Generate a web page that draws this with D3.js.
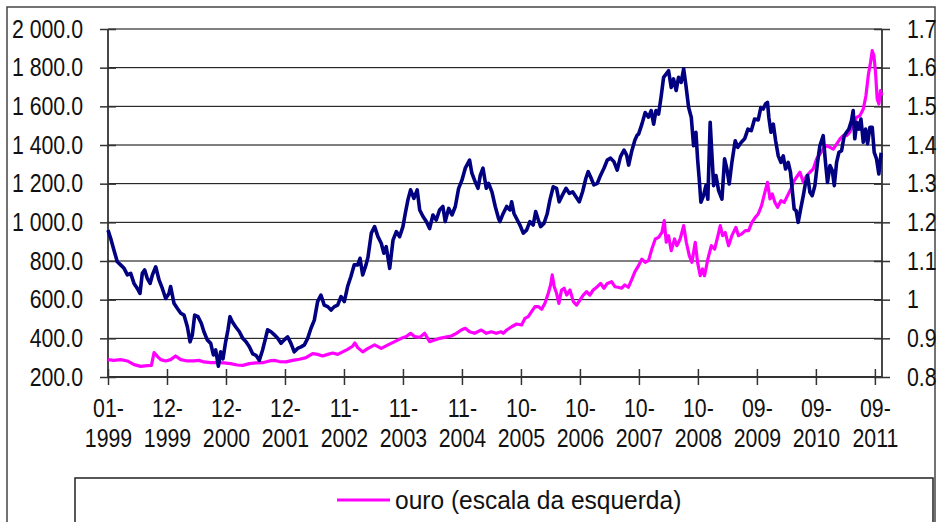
<!DOCTYPE html>
<html>
  <head>
    <script src="https://d3js.org/d3.v7.min.js"></script>
    <style>
      body { margin: 0; background: #fff; }
      text { font-family: "Liberation Sans", Arial, sans-serif; fill: #111; }
    </style>
  </head>
  <body>
    <script>

      // days counted from the first observation
      const startDate = new Date(1999, 0, 4);
      const endDate = new Date(2011, 9, 19);

      // EUR/USD, right scale  [day, value]
      const eurusd = [
        [0,1.180],[16,1.159],[36,1.128],[56,1.098],[76,1.090],[97,1.081],[117,1.064],[137,1.068],[157,1.042],[177,1.029],
        [193,1.016],[207,1.068],[221,1.077],[237,1.055],[254,1.042],[268,1.064],[288,1.085],[308,1.051],[328,1.029],[348,1.003],
        [368,1.016],[378,1.034],[398,0.991],[418,0.978],[439,0.965],[459,0.960],[479,0.930],[495,0.891],[509,0.909],[523,0.960],
        [543,0.956],[563,0.939],[579,0.917],[599,0.896],[620,0.887],[636,0.857],[650,0.870],[666,0.828],[680,0.865],[694,0.847],
        [710,0.891],[724,0.922],[736,0.956],[750,0.943],[770,0.930],[793,0.917],[813,0.900],[833,0.891],[853,0.878],[873,0.860],
        [893,0.856],[913,0.843],[933,0.870],[953,0.904],[963,0.922],[984,0.917],[1004,0.909],[1024,0.900],[1044,0.887],[1064,0.896],
        [1084,0.904],[1104,0.887],[1124,0.865],[1144,0.874],[1165,0.878],[1185,0.883],[1205,0.900],[1225,0.926],[1245,0.947],[1265,0.995],
        [1285,1.012],[1305,0.986],[1326,0.982],[1346,0.973],[1366,0.982],[1386,0.986],[1406,1.008],[1426,0.995],[1446,1.034],[1466,1.060],
        [1486,1.090],[1507,1.090],[1521,1.107],[1537,1.064],[1557,1.090],[1569,1.110],[1589,1.172],[1609,1.189],[1629,1.163],[1649,1.146],
        [1665,1.120],[1679,1.137],[1700,1.081],[1720,1.154],[1740,1.176],[1760,1.163],[1780,1.189],[1794,1.223],[1810,1.258],[1826,1.284],
        [1846,1.262],[1866,1.284],[1881,1.232],[1901,1.215],[1921,1.202],[1941,1.184],[1961,1.219],[1981,1.206],[2001,1.232],[2021,1.241],
        [2035,1.202],[2056,1.236],[2076,1.219],[2096,1.241],[2116,1.288],[2136,1.309],[2156,1.340],[2182,1.361],[2196,1.327],[2212,1.309],
        [2233,1.288],[2247,1.322],[2263,1.340],[2283,1.288],[2297,1.301],[2317,1.279],[2337,1.241],[2357,1.210],[2365,1.202],[2385,1.223],
        [2406,1.241],[2426,1.232],[2436,1.253],[2450,1.223],[2470,1.206],[2486,1.193],[2506,1.172],[2526,1.180],[2546,1.202],[2566,1.193],
        [2581,1.228],[2597,1.206],[2611,1.189],[2631,1.197],[2651,1.223],[2667,1.258],[2687,1.292],[2707,1.288],[2723,1.253],[2743,1.271],
        [2764,1.288],[2784,1.275],[2804,1.279],[2824,1.266],[2844,1.253],[2864,1.279],[2884,1.314],[2898,1.331],[2912,1.318],[2932,1.297],
        [2953,1.301],[2973,1.322],[2993,1.340],[3013,1.361],[3033,1.366],[3053,1.357],[3073,1.335],[3093,1.370],[3114,1.387],[3130,1.374],
        [3142,1.348],[3160,1.383],[3180,1.413],[3194,1.426],[3202,1.428],[3222,1.454],[3242,1.484],[3262,1.472],[3278,1.489],[3293,1.454],
        [3307,1.489],[3323,1.480],[3339,1.528],[3353,1.575],[3369,1.584],[3383,1.592],[3399,1.549],[3413,1.571],[3429,1.541],[3443,1.575],
        [3459,1.562],[3474,1.597],[3488,1.553],[3504,1.497],[3520,1.472],[3534,1.398],[3548,1.433],[3558,1.364],[3568,1.312],[3578,1.252],
        [3594,1.269],[3608,1.295],[3620,1.260],[3634,1.459],[3645,1.372],[3655,1.295],[3669,1.321],[3685,1.282],[3705,1.260],[3721,1.364],
        [3735,1.338],[3749,1.299],[3765,1.355],[3785,1.411],[3801,1.394],[3822,1.407],[3842,1.416],[3862,1.441],[3882,1.437],[3902,1.467],
        [3924,1.465],[3940,1.497],[3954,1.493],[3968,1.506],[3980,1.510],[3988,1.472],[4001,1.433],[4015,1.454],[4029,1.411],[4045,1.372],
        [4061,1.355],[4075,1.372],[4089,1.338],[4105,1.355],[4119,1.329],[4129,1.286],[4141,1.234],[4153,1.230],[4165,1.200],[4180,1.234],
        [4196,1.269],[4210,1.303],[4222,1.321],[4236,1.278],[4250,1.269],[4266,1.295],[4282,1.355],[4296,1.398],[4316,1.424],[4330,1.355],
        [4342,1.303],[4357,1.347],[4371,1.334],[4383,1.295],[4397,1.355],[4411,1.381],[4427,1.385],[4443,1.424],[4457,1.433],[4471,1.441],
        [4487,1.463],[4497,1.489],[4507,1.416],[4519,1.459],[4532,1.441],[4544,1.467],[4558,1.407],[4572,1.441],[4584,1.403],[4598,1.446],
        [4612,1.446],[4624,1.381],[4638,1.364],[4652,1.325],[4666,1.380]
      ];

      // gold, left scale  [day, value]
      const ouro = [
        [0,290],[36,286],[76,290],[117,283],[157,264],[197,255],[237,259],[262,260],[278,326],[298,307],
        [318,290],[348,283],[378,290],[408,309],[439,290],[479,283],[519,283],[549,286],[579,278],[620,274],
        [660,274],[700,273],[740,269],[780,262],[813,260],[853,269],[893,273],[933,274],[974,283],[1004,286],
        [1034,280],[1074,278],[1114,286],[1155,292],[1195,300],[1235,321],[1265,317],[1295,309],[1326,317],[1356,324],
        [1386,317],[1416,330],[1446,343],[1476,359],[1490,376],[1507,352],[1537,330],[1567,347],[1609,366],[1649,348],
        [1690,366],[1730,383],[1770,400],[1800,409],[1826,426],[1850,409],[1881,405],[1911,426],[1941,383],[1971,391],
        [2001,400],[2031,405],[2072,412],[2102,426],[2132,443],[2156,452],[2182,434],[2212,426],[2253,443],[2283,426],
        [2313,434],[2343,426],[2373,434],[2385,426],[2406,443],[2436,460],[2466,474],[2496,469],[2516,503],[2536,512],
        [2556,538],[2577,564],[2597,564],[2617,550],[2637,581],[2657,633],[2671,676],[2681,728],[2693,667],[2707,633],
        [2721,581],[2737,650],[2753,659],[2768,624],[2788,650],[2808,590],[2828,572],[2848,598],[2868,624],[2888,641],
        [2908,624],[2928,650],[2953,667],[2973,684],[2993,659],[3013,684],[3039,693],[3059,667],[3079,664],[3099,659],
        [3119,676],[3140,664],[3160,702],[3180,745],[3202,776],[3222,810],[3242,793],[3262,802],[3282,862],[3303,914],
        [3323,922],[3343,948],[3357,1009],[3369,897],[3383,931],[3399,853],[3419,914],[3433,879],[3453,914],[3474,983],
        [3490,897],[3508,828],[3524,793],[3544,897],[3558,793],[3574,724],[3588,759],[3600,724],[3620,810],[3641,879],
        [3661,862],[3681,931],[3695,983],[3709,931],[3725,948],[3745,879],[3765,931],[3789,974],[3805,931],[3825,940],
        [3846,957],[3866,957],[3886,1000],[3906,1026],[3924,1043],[3944,1086],[3964,1155],[3980,1207],[3995,1121],[4009,1147],
        [4025,1103],[4041,1078],[4061,1112],[4081,1103],[4101,1138],[4121,1172],[4141,1216],[4161,1241],[4176,1259],[4196,1207],
        [4216,1241],[4236,1259],[4256,1276],[4276,1328],[4296,1353],[4316,1379],[4336,1397],[4357,1388],[4377,1379],[4397,1405],
        [4417,1431],[4437,1448],[4457,1448],[4477,1466],[4497,1509],[4517,1543],[4538,1552],[4558,1586],[4574,1655],[4588,1759],
        [4602,1828],[4612,1888],[4622,1862],[4632,1776],[4642,1638],[4652,1612],[4662,1681],[4670,1655]
      ];

      const leftTicks = [200, 400, 600, 800, 1000, 1200, 1400, 1600, 1800, 2000];
      const rightTicks = [0.8, 0.9, 1.0, 1.1, 1.2, 1.3, 1.4, 1.5, 1.6, 1.7];
      const tickDates = ["1999-01-04", "1999-12-26", "2000-12-16", "2001-12-07", "2002-11-28", "2003-11-19", "2004-11-09",
                         "2005-10-31", "2006-10-22", "2007-10-13", "2008-10-03", "2009-09-24", "2010-09-15", "2011-09-06"];
      const tickLabels = ["01-1999", "12-1999", "12-2000", "12-2001", "11-2002", "11-2003", "11-2004",
                          "10-2005", "10-2006", "10-2007", "10-2008", "09-2009", "09-2010", "09-2011"];
      const legendLabel = "ouro (escala da esquerda)";

      const width = 940;
      const height = 522;
      const plot = { left: 108, right: 882, top: 29, bottom: 377 };
      const fontSize = 26;
      const narrow = 0.82; // no narrow face installed, squeeze the regular one

      const svg = d3.select("body")
        .append("svg")
        .attr("width", width)
        .attr("height", height);

      svg.append("rect")
        .attr("x", 7).attr("y", 7)
        .attr("width", 928).attr("height", 540)
        .attr("fill", "#fff")
        .attr("stroke", "#444")
        .attr("stroke-width", 1.5);

      const parse = d3.timeParse("%Y-%m-%d");
      const dayToDate = d => d3.timeDay.offset(startDate, d);

      const x = d3.scaleTime()
        .domain([startDate, endDate])
        .range([plot.left, plot.right]);

      const yLeft = d3.scaleLinear()
        .domain([200, 2000])
        .range([plot.bottom, plot.top]);

      const yRight = d3.scaleLinear()
        .domain([0.8, 1.7])
        .range([plot.bottom, plot.top]);

      // gridlines
      svg.append("g")
        .selectAll("line")
        .data(leftTicks)
        .join("line")
        .attr("x1", plot.left).attr("x2", plot.right)
        .attr("y1", d => yLeft(d)).attr("y2", d => yLeft(d))
        .attr("stroke", "#000")
        .attr("stroke-width", 1);

      const ptFormat = d3.formatLocale({ decimal: ".", thousands: " ", grouping: [3], currency: ["", ""] }).format(",.1f");

      // left axis
      const gLeft = svg.append("g")
        .attr("transform", `translate(${plot.left},0)`)
        .call(d3.axisLeft(yLeft).tickValues(leftTicks).tickFormat(ptFormat).tickSize(8).tickPadding(17));
      gLeft.selectAll(".tick line").attr("x1", 8);

      // right axis
      const gRight = svg.append("g")
        .attr("transform", `translate(${plot.right},0)`)
        .call(d3.axisRight(yRight).tickValues(rightTicks).tickFormat(d => String(+d.toFixed(1))).tickSize(8).tickPadding(17));
      gRight.selectAll(".tick line").attr("x1", -8);

      // bottom axis
      const gBottom = svg.append("g")
        .attr("transform", `translate(0,${plot.bottom})`)
        .call(d3.axisBottom(x).tickValues(tickDates.map(parse)).tickFormat("").tickSize(8));
      gBottom.selectAll(".tick line").attr("y1", -8);

      gBottom.selectAll(".tick")
        .append("text")
        .attr("text-anchor", "middle")
        .each(function(d, i) {
          const parts = tickLabels[i].split("-");
          const t = d3.select(this);
          t.append("tspan").attr("x", 0).attr("y", 40).text(parts[0] + "-");
          t.append("tspan").attr("x", 0).attr("y", 70).text(parts[1]);
        });

      [gLeft, gRight, gBottom].forEach(g => {
        g.select(".domain").attr("stroke", "#333").attr("stroke-width", 1.8);
        g.selectAll(".tick line").attr("stroke", "#333").attr("stroke-width", 1.5);
        g.selectAll(".tick text")
          .attr("font-size", fontSize)
          .attr("fill", "#111")
          .attr("x", function() { return (+d3.select(this).attr("x") || 0) / narrow; })
          .attr("transform", `scale(${narrow},1)`);
        g.attr("font-family", null);
      });
      gLeft.select(".domain").attr("d", `M0,${plot.top}V${plot.bottom}`);
      gRight.select(".domain").attr("d", `M0,${plot.top}V${plot.bottom}`);
      gBottom.select(".domain").attr("d", `M${plot.left},0H${plot.right}`);

      // series
      const lineGold = d3.line()
        .x(d => x(dayToDate(d[0])))
        .y(d => yLeft(d[1]));

      const lineEur = d3.line()
        .x(d => x(dayToDate(d[0])))
        .y(d => yRight(d[1]));

      svg.append("path")
        .datum(ouro)
        .attr("d", lineGold)
        .attr("fill", "none")
        .attr("stroke", "#ff00ff")
        .attr("stroke-width", 3.2)
        .attr("stroke-linejoin", "round");

      svg.append("path")
        .datum(eurusd)
        .attr("d", lineEur)
        .attr("fill", "none")
        .attr("stroke", "#000080")
        .attr("stroke-width", 3.6)
        .attr("stroke-linejoin", "round");

      // legend
      svg.append("rect")
        .attr("x", 75).attr("y", 478)
        .attr("width", 858).attr("height", 70)
        .attr("fill", "#fff")
        .attr("stroke", "#222")
        .attr("stroke-width", 1.5);

      svg.append("line")
        .attr("x1", 337).attr("x2", 390)
        .attr("y1", 500).attr("y2", 500)
        .attr("stroke", "#ff00ff")
        .attr("stroke-width", 3);

      const legendScale = 0.944;
      svg.append("text")
        .attr("x", 395 / legendScale).attr("y", 500)
        .attr("dy", "0.35em")
        .attr("font-size", fontSize)
        .attr("transform", `scale(${legendScale},1)`)
        .text(legendLabel);

    </script>
  </body>
</html>
